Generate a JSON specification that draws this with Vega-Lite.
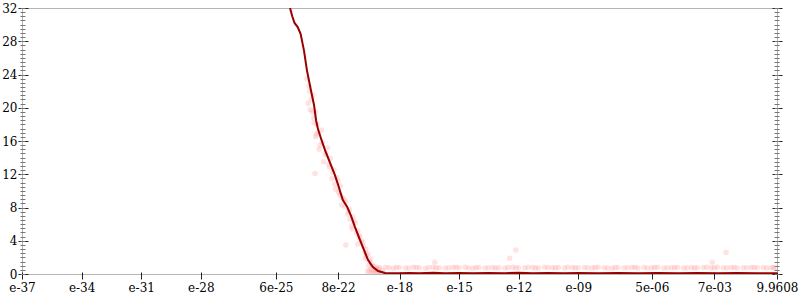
{
  "$schema": "https://vega.github.io/schema/vega-lite/v6.json",
  "width": 755,
  "height": 266,
  "autosize": {"type": "none"},
  "padding": {"left": 22, "top": 8, "right": 23, "bottom": 26},
  "background": "white",
  "config": {
    "view": {"stroke": "#b4b4b4", "strokeWidth": 1},
    "axis": {"labelFont": "DejaVu Serif", "labelFontSize": 12, "labelColor": "#000", "domain": false, "grid": false, "title": null}
  },
  "datasets": {
    "line": [
      {"x": 3.09e-24, "y": 32}, {"x": 4.0e-24, "y": 31.0}, {"x": 5.2e-24, "y": 30.2}, {"x": 7.5e-24, "y": 29.7}, {"x": 1.05e-23, "y": 28.9},
      {"x": 1.55e-23, "y": 26.9}, {"x": 2.19e-23, "y": 24.5}, {"x": 3.47e-23, "y": 22.1}, {"x": 5.01e-23, "y": 20.3},
      {"x": 6.31e-23, "y": 18.5}, {"x": 7.94e-23, "y": 17.4}, {"x": 1.12e-22, "y": 16.3}, {"x": 1.78e-22, "y": 14.9},
      {"x": 3.16e-22, "y": 13.4}, {"x": 5.62e-22, "y": 11.9}, {"x": 7.94e-22, "y": 10.8}, {"x": 1.1e-21, "y": 9.7}, {"x": 1.41e-21, "y": 8.9},
      {"x": 2.29e-21, "y": 8.1}, {"x": 3.63e-21, "y": 7.0}, {"x": 5.75e-21, "y": 5.65}, {"x": 1.02e-20, "y": 4.1},
      {"x": 1.62e-20, "y": 2.9}, {"x": 2.57e-20, "y": 1.7}, {"x": 4.57e-20, "y": 0.84}, {"x": 8.32e-20, "y": 0.36},
      {"x": 1.86e-19, "y": 0.12}, {"x": 1e-18, "y": 0.1}, {"x": 3e-18, "y": 0.12}, {"x": 1e-17, "y": 0.1},
      {"x": 5e-17, "y": 0.14}, {"x": 2e-16, "y": 0.1}, {"x": 1e-15, "y": 0.12}, {"x": 5e-15, "y": 0.1},
      {"x": 3e-14, "y": 0.13}, {"x": 2e-13, "y": 0.1}, {"x": 1e-12, "y": 0.14}, {"x": 5e-12, "y": 0.1},
      {"x": 3e-11, "y": 0.11}, {"x": 2e-10, "y": 0.1}, {"x": 1e-9, "y": 0.12}, {"x": 1e-8, "y": 0.1},
      {"x": 1e-7, "y": 0.11}, {"x": 1e-6, "y": 0.1}, {"x": 1e-5, "y": 0.12}, {"x": 1e-4, "y": 0.1},
      {"x": 1e-3, "y": 0.11}, {"x": 1e-2, "y": 0.1}, {"x": 1e-1, "y": 0.12}, {"x": 1, "y": 0.1}, {"x": 9.9608, "y": 0.1}
    ],
    "pts": [
      {"x": 3e-23, "y": 22}, {"x": 2.5e-23, "y": 20.5}, {"x": 4e-23, "y": 19.5}, {"x": 3.5e-23, "y": 21},
      {"x": 2.2e-23, "y": 23.5}, {"x": 2.8e-23, "y": 22.6}, {"x": 4.5e-23, "y": 21.5}, {"x": 3.2e-23, "y": 19.8},
      {"x": 6e-23, "y": 19.5}, {"x": 4.8e-23, "y": 18.8}, {"x": 7e-23, "y": 18},
      {"x": 5e-23, "y": 18.2}, {"x": 8e-23, "y": 17}, {"x": 6e-23, "y": 16.5}, {"x": 1.3e-22, "y": 15.8},
      {"x": 9e-23, "y": 15}, {"x": 2e-22, "y": 14.3}, {"x": 1.5e-22, "y": 13.5}, {"x": 3e-22, "y": 12.8},
      {"x": 5.6e-23, "y": 12.1}, {"x": 4e-22, "y": 11.5}, {"x": 8e-22, "y": 11.2}, {"x": 6e-22, "y": 10.2},
      {"x": 1e-21, "y": 9.5}, {"x": 1.6e-21, "y": 9}, {"x": 1.2e-21, "y": 8.3}, {"x": 3e-21, "y": 7.8},
      {"x": 2.5e-21, "y": 7.2}, {"x": 5e-21, "y": 6.4}, {"x": 4e-21, "y": 5.8}, {"x": 8e-21, "y": 5.2},
      {"x": 1e-20, "y": 4.6}, {"x": 1.4e-20, "y": 3.8}, {"x": 2e-21, "y": 3.5}, {"x": 2e-20, "y": 3},
      {"x": 2.2e-20, "y": 2.2}, {"x": 3.5e-20, "y": 1.8}, {"x": 4e-20, "y": 1.2}, {"x": 6e-20, "y": 0.9},
      {"x": 3e-20, "y": 0.4}, {"x": 5e-20, "y": 0.2}, {"x": 8e-20, "y": 0.3}, {"x": 1.2e-19, "y": 0.15}, {"x": 7e-20, "y": 0.6},
      {"x": 1.2e-22, "y": 17.3}, {"x": 6.5e-23, "y": 16.8}, {"x": 1.0e-22, "y": 15.5}, {"x": 2.4e-22, "y": 15.2},
      {"x": 1.8e-22, "y": 14.6}, {"x": 3.3e-22, "y": 13.9}, {"x": 2.7e-22, "y": 13.2}, {"x": 5e-22, "y": 12.5},
      {"x": 4.2e-22, "y": 12.2}, {"x": 7e-22, "y": 11.6}, {"x": 5.5e-22, "y": 10.8}, {"x": 1.05e-21, "y": 10.6},
      {"x": 8.5e-22, "y": 9.8}, {"x": 1.3e-21, "y": 9.2}, {"x": 2e-21, "y": 8.7}, {"x": 1.8e-21, "y": 8.1},
      {"x": 2.8e-21, "y": 7.5}, {"x": 4.5e-21, "y": 6.9}, {"x": 3.2e-21, "y": 6.6}, {"x": 6e-21, "y": 6.1},
      {"x": 4.2e-21, "y": 5.4}, {"x": 7e-21, "y": 4.9}, {"x": 9e-21, "y": 4.4}, {"x": 1.2e-20, "y": 4.0},
      {"x": 8e-21, "y": 3.6}, {"x": 1.5e-20, "y": 3.3}, {"x": 1.8e-20, "y": 2.6}, {"x": 2.6e-20, "y": 2.4},
      {"x": 1.9e-20, "y": 1.9}, {"x": 3e-20, "y": 1.5}, {"x": 2.8e-20, "y": 1.0}, {"x": 4.5e-20, "y": 0.9},
      {"x": 3.8e-20, "y": 0.6}, {"x": 6e-20, "y": 0.5}, {"x": 9e-20, "y": 0.7}, {"x": 1.5e-19, "y": 0.4},
      {"x": 4e-20, "y": 0.2}, {"x": 2.5e-20, "y": 0.3}, {"x": 1e-19, "y": 0.05}, {"x": 6e-20, "y": 0.1},
      {"x": 7.2e-13, "y": 2.9}, {"x": 3.5e-13, "y": 1.9}, {"x": 2.7e-2, "y": 2.6}, {"x": 5.5e-3, "y": 1.4}, {"x": 6e-17, "y": 1.4},
      {"x": 1e-19, "y": 0.75}, {"x": 2e-19, "y": 0.8}, {"x": 5e-19, "y": 0.7}, {"x": 1e-18, "y": 0.78}, {"x": 2e-18, "y": 0.72},
      {"x": 5e-18, "y": 0.8}, {"x": 1e-17, "y": 0.75}, {"x": 2e-17, "y": 0.7}, {"x": 5e-17, "y": 0.8}, {"x": 1e-16, "y": 0.76},
      {"x": 2e-16, "y": 0.72}, {"x": 5e-16, "y": 0.78}, {"x": 1e-15, "y": 0.74}, {"x": 2e-15, "y": 0.8}, {"x": 5e-15, "y": 0.7},
      {"x": 1e-14, "y": 0.77}, {"x": 2e-14, "y": 0.73}, {"x": 5e-14, "y": 0.79}, {"x": 1e-13, "y": 0.75}, {"x": 2e-13, "y": 0.71},
      {"x": 5e-13, "y": 0.8}, {"x": 1e-12, "y": 0.76}, {"x": 2e-12, "y": 0.74}, {"x": 5e-12, "y": 0.78}, {"x": 1e-11, "y": 0.72},
      {"x": 2e-11, "y": 0.8}, {"x": 5e-11, "y": 0.75}, {"x": 1e-10, "y": 0.77}, {"x": 2e-10, "y": 0.71}, {"x": 5e-10, "y": 0.79},
      {"x": 1e-9, "y": 0.74}, {"x": 2e-9, "y": 0.78}, {"x": 5e-9, "y": 0.72}, {"x": 1e-8, "y": 0.8}, {"x": 2e-8, "y": 0.75},
      {"x": 5e-8, "y": 0.7}, {"x": 1e-7, "y": 0.78}, {"x": 2e-7, "y": 0.74}, {"x": 5e-7, "y": 0.79}, {"x": 1e-6, "y": 0.73},
      {"x": 2e-6, "y": 0.77}, {"x": 5e-6, "y": 0.75}, {"x": 1e-5, "y": 0.8}, {"x": 2e-5, "y": 0.72}, {"x": 5e-5, "y": 0.76},
      {"x": 1e-4, "y": 0.78}, {"x": 2e-4, "y": 0.71}, {"x": 5e-4, "y": 0.79}, {"x": 1e-3, "y": 0.74}, {"x": 2e-3, "y": 0.77},
      {"x": 5e-3, "y": 0.73}, {"x": 1e-2, "y": 0.8}, {"x": 2e-2, "y": 0.75}, {"x": 5e-2, "y": 0.78}, {"x": 1e-1, "y": 0.72},
      {"x": 2e-1, "y": 0.76}, {"x": 5e-1, "y": 0.79}, {"x": 1, "y": 0.74}, {"x": 2, "y": 0.77}, {"x": 5, "y": 0.75}, {"x": 8, "y": 0.78},
      {"x": 3e-19, "y": 0.76}, {"x": 7e-19, "y": 0.8}, {"x": 3e-18, "y": 0.73}, {"x": 7e-18, "y": 0.77}, {"x": 3e-17, "y": 0.79},
      {"x": 7e-17, "y": 0.72}, {"x": 3e-16, "y": 0.75}, {"x": 7e-16, "y": 0.8}, {"x": 3e-15, "y": 0.71}, {"x": 7e-15, "y": 0.77},
      {"x": 3e-14, "y": 0.76}, {"x": 7e-14, "y": 0.72}, {"x": 3e-13, "y": 0.79}, {"x": 7e-13, "y": 0.74}, {"x": 3e-12, "y": 0.8},
      {"x": 7e-12, "y": 0.73}, {"x": 3e-11, "y": 0.77}, {"x": 7e-11, "y": 0.75}, {"x": 3e-10, "y": 0.8}, {"x": 7e-10, "y": 0.72},
      {"x": 3e-9, "y": 0.76}, {"x": 7e-9, "y": 0.79}, {"x": 3e-8, "y": 0.73}, {"x": 7e-8, "y": 0.77}, {"x": 3e-7, "y": 0.75},
      {"x": 7e-7, "y": 0.8}, {"x": 3e-6, "y": 0.72}, {"x": 7e-6, "y": 0.78}, {"x": 3e-5, "y": 0.74}, {"x": 7e-5, "y": 0.79},
      {"x": 3e-4, "y": 0.76}, {"x": 7e-4, "y": 0.73}, {"x": 3e-3, "y": 0.8}, {"x": 7e-3, "y": 0.75}, {"x": 3e-2, "y": 0.72},
      {"x": 7e-2, "y": 0.78}, {"x": 3e-1, "y": 0.74}, {"x": 7e-1, "y": 0.79}, {"x": 3, "y": 0.73}, {"x": 6.5, "y": 0.77}
    ]
  },
  "resolve": {"axis": {"y": "independent"}},
  "layer": [
    {
      "data": {"name": "pts"},
      "mark": {"type": "circle", "color": "#ff8c8c", "opacity": 0.25, "size": 30, "clip": true},
      "encoding": {
        "x": {"field": "x", "type": "quantitative",
          "scale": {"type": "log", "domain": [1e-37, 9.9608], "nice": false, "zero": false},
          "axis": {"values": [1e-37, 1e-34, 1e-31, 1e-28, 6e-25, 8e-22, 1e-18, 1e-15, 1e-12, 1e-9, 5e-6, 7e-3, 9.9608],
            "labelExpr": "datum.value < 2e-37 ? 'e-37' : datum.value < 2e-34 ? 'e-34' : datum.value < 2e-31 ? 'e-31' : datum.value < 2e-28 ? 'e-28' : datum.value < 1e-24 ? '6e-25' : datum.value < 1e-21 ? '8e-22' : datum.value < 2e-18 ? 'e-18' : datum.value < 2e-15 ? 'e-15' : datum.value < 2e-12 ? 'e-12' : datum.value < 2e-9 ? 'e-09' : datum.value < 1e-5 ? '5e-06' : datum.value < 1e-2 ? '7e-03' : '9.9608'",
            "offset": -2, "tickSize": 7, "tickColor": "#222", "labelPadding": 3, "labelFlush": false, "labelOverlap": false}},
        "y": {"field": "y", "type": "quantitative", "scale": {"domain": [0, 32], "nice": false},
          "axis": {"orient": "left", "values": [0, 4, 8, 12, 16, 20, 24, 28, 32], "offset": -6, "tickSize": 10, "tickColor": "#222", "labelPadding": 1, "labelFlush": false, "labelOverlap": false}}
      }
    },
    {
      "data": {"name": "line"},
      "mark": {"type": "line", "color": "#990000", "strokeWidth": 2, "clip": true},
      "encoding": {
        "x": {"field": "x", "type": "quantitative", "scale": {"type": "log", "domain": [1e-37, 9.9608], "nice": false, "zero": false}},
        "y": {"field": "y", "type": "quantitative", "scale": {"domain": [0, 32], "nice": false},
          "axis": {"orient": "right", "values": [0, 4, 8, 12, 16, 20, 24, 28, 32], "offset": -5, "tickSize": 10, "tickColor": "#222", "labels": false}}
      }
    },
    {
      "data": {"name": "pts"},
      "mark": {"type": "point", "opacity": 0},
      "encoding": {
        "x": {"field": "x", "type": "quantitative", "scale": {"type": "log", "domain": [1e-37, 9.9608], "nice": false, "zero": false}},
        "y": {"field": "y", "type": "quantitative", "scale": {"domain": [0, 32], "nice": false},
          "axis": {"orient": "left", "tickCount": 64, "offset": -3, "tickSize": 5, "tickColor": "#777", "labels": false}}
      }
    },
    {
      "data": {"name": "pts"},
      "mark": {"type": "point", "opacity": 0},
      "encoding": {
        "x": {"field": "x", "type": "quantitative", "scale": {"type": "log", "domain": [1e-37, 9.9608], "nice": false, "zero": false}},
        "y": {"field": "y", "type": "quantitative", "scale": {"domain": [0, 32], "nice": false},
          "axis": {"orient": "right", "tickCount": 64, "offset": -3, "tickSize": 5, "tickColor": "#777", "labels": false}}
      }
    }
  ]
}
